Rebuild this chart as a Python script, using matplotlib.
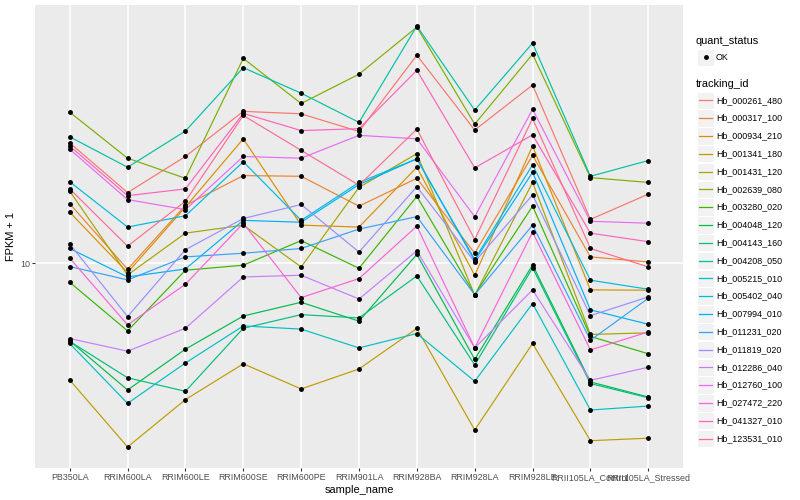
import numpy as np
import matplotlib
matplotlib.use("Agg")
import matplotlib.pyplot as plt
from matplotlib.patches import Rectangle
from matplotlib.lines import Line2D

plt.rcParams['font.family'] = ['Liberation Sans', 'DejaVu Sans']

samples = ["PB350LA", "RRIM600LA", "RRIM600LE", "RRIM600SE", "RRIM600PE", "RRIM901LA",
           "RRIM928BA", "RRIM928LA", "RRIM928LE", "RRII105LA_Control", "RRII105LA_Stressed"]

tracking_ids = ["Hb_000261_480", "Hb_000317_100", "Hb_000934_210", "Hb_001341_180",
                "Hb_001431_120", "Hb_002639_080", "Hb_003280_020", "Hb_004048_120",
                "Hb_004143_160", "Hb_004208_050", "Hb_005215_010", "Hb_005402_040",
                "Hb_007994_010", "Hb_011231_020", "Hb_011819_020", "Hb_012286_040",
                "Hb_012760_100", "Hb_027472_220", "Hb_041327_010", "Hb_123531_010"]

# FPKM + 1 per sample, one list per gene
hb_000261_480 = [25.2, 17.2, 22.7, 32.1, 31.5, 27.5, 49.4, 27.8, 39.3, 14.0, 17.0]
hb_000317_100 = [15.8, 9.55, 15.6, 19.6, 19.5, 15.5, 19.2, 10.8, 22.9, 10.5, 10.1]
hb_000934_210 = [14.8, 9.31, 15.4, 26.0, 13.4, 13.2, 20.9, 9.12, 24.6, 8.15, 8.13]
hb_001341_180 = [4.08, 2.44, 3.51, 4.62, 3.81, 4.44, 6.06, 2.78, 5.40, 2.56, 2.61]
hb_001431_120 = [17.4, 9.14, 12.6, 13.4, 9.72, 17.9, 23.2, 7.82, 18.6, 5.79, 5.86]
hb_002639_080 = [31.9, 22.4, 19.2, 48.2, 34.1, 42.7, 61.3, 29.1, 49.8, 19.3, 18.6]
hb_003280_020 = [8.64, 5.95, 9.48, 9.85, 11.9, 9.62, 16.7, 7.86, 15.5, 5.70, 4.99]
hb_004048_120 = [5.51, 3.78, 5.17, 6.67, 7.41, 6.41, 10.7, 4.78, 9.87, 4.02, 3.58]
hb_004143_160 = [5.49, 4.15, 3.74, 6.07, 6.74, 6.57, 9.07, 4.58, 9.65, 3.97, 3.56]
hb_004208_050 = [26.4, 20.9, 27.6, 44.9, 36.9, 29.5, 61.8, 32.4, 54.2, 19.5, 22.0]
hb_005215_010 = [5.40, 3.41, 4.65, 6.18, 6.03, 5.22, 5.83, 4.04, 7.34, 3.24, 3.34]
hb_005402_040 = [18.7, 13.2, 14.4, 21.8, 13.9, 18.6, 22.3, 10.3, 21.3, 8.78, 8.19]
hb_007994_010 = [11.2, 9.00, 9.57, 13.9, 13.7, 18.3, 22.3, 10.2, 20.1, 6.99, 6.26]
hb_011231_020 = [9.75, 8.80, 10.5, 10.8, 11.2, 13.0, 14.3, 7.85, 13.4, 5.54, 7.64]
hb_011819_020 = [11.6, 6.64, 11.1, 14.1, 15.7, 10.9, 18.0, 10.1, 16.9, 6.69, 7.72]
hb_012286_040 = [5.61, 5.09, 6.07, 9.00, 9.12, 7.60, 11.0, 5.22, 8.15, 4.07, 4.50]
hb_012760_100 = [24.0, 16.3, 15.1, 22.7, 22.4, 26.7, 26.0, 14.3, 32.6, 13.8, 13.6]
hb_027472_220 = [10.4, 6.23, 8.51, 13.6, 7.68, 8.89, 13.3, 5.22, 12.7, 5.14, 5.90]
hb_041327_010 = [24.6, 16.8, 17.7, 31.6, 27.7, 28.1, 44.0, 20.8, 26.8, 12.6, 11.8]
hb_123531_010 = [17.7, 11.4, 16.1, 31.1, 23.8, 18.2, 28.0, 12.0, 30.4, 11.2, 9.72]

fpkm = [hb_000261_480, hb_000317_100, hb_000934_210, hb_001341_180, hb_001431_120,
        hb_002639_080, hb_003280_020, hb_004048_120, hb_004143_160, hb_004208_050,
        hb_005215_010, hb_005402_040, hb_007994_010, hb_011231_020, hb_011819_020,
        hb_012286_040, hb_012760_100, hb_027472_220, hb_041327_010, hb_123531_010]

# ggplot hue palette, 20 levels
colors = ["#F8766D", "#EA8331", "#D89000", "#C09B00", "#A3A500", "#7CAE00", "#39B600",
          "#00BB4E", "#00BF7D", "#00C1A3", "#00BFC4", "#00BAE0", "#00B0F6", "#35A2FF",
          "#9590FF", "#C77CFF", "#E76BF3", "#FA62DB", "#FF62BC", "#FF6C91"]

W, H = 800, 500
fig = plt.figure(figsize=(W / 100, H / 100), dpi=100)
ax = fig.add_axes([35 / W, 32 / H, 648 / W, 463 / H])
ax.set_facecolor("#EBEBEB")

x = np.arange(len(samples))
for vals, c in zip(fpkm, colors):
    ax.plot(x, vals, color=c, lw=0.85, zorder=2)
for vals in fpkm:
    ax.plot(x, vals, "o", color="black", ms=2.5, zorder=3)

ax.set_yscale("log")
lo = np.log10(min(min(v) for v in fpkm))
hi = np.log10(max(max(v) for v in fpkm))
pad = (hi - lo) * 0.05
ax.set_ylim(10 ** (lo - pad), 10 ** (hi + pad))
ax.set_xlim(-0.6, len(samples) - 0.4)
ax.set_yticks([10])
ax.set_yticklabels(["10"])
ax.yaxis.set_minor_locator(matplotlib.ticker.NullLocator())
ax.set_xticks(x)
ax.set_xticklabels(samples)
ax.grid(True, color="white", lw=1.1)
ax.set_axisbelow(True)
for s in ax.spines.values():
    s.set_visible(False)
ax.tick_params(length=2, width=0.8, color="#333333", labelsize=6.4,
               labelcolor="#4D4D4D", pad=1.5)
ax.set_xlabel("sample_name", fontsize=7.9, labelpad=2)
ax.set_ylabel("FPKM + 1", fontsize=7.9, labelpad=3)

# legend, drawn in figure pixels
def fx(px):
    return px / W

def fy(py):
    return 1 - py / H

key = 17.3
fig.text(fx(696), fy(40.5), "quant_status", fontsize=7.9, va="center", ha="left")
fig.add_artist(Rectangle((fx(697), fy(57.3 + key / 2)), key / W, key / H,
                         facecolor="#F2F2F2", edgecolor="white", lw=0.8,
                         transform=fig.transFigure))
fig.add_artist(Line2D([fx(697 + key / 2)], [fy(57.3)], marker="o", ms=2.5,
                      color="black", transform=fig.transFigure))
fig.text(fx(716), fy(57.3), "OK", fontsize=6.4, va="center", ha="left")

fig.text(fx(696), fy(84.3), "tracking_id", fontsize=7.9, va="center", ha="left")
for i, (tid, c) in enumerate(zip(tracking_ids, colors)):
    yc = 100.3 + i * 17.8
    fig.add_artist(Rectangle((fx(697), fy(yc + key / 2)), key / W, key / H,
                             facecolor="#F2F2F2", edgecolor="white", lw=0.8,
                             transform=fig.transFigure))
    fig.add_artist(Line2D([fx(699), fx(712)], [fy(yc), fy(yc)], color=c, lw=0.9,
                          transform=fig.transFigure))
    fig.text(fx(716), fy(yc), tid, fontsize=6.4, va="center", ha="left")

fig.savefig("out.png", dpi=100, facecolor="white")
